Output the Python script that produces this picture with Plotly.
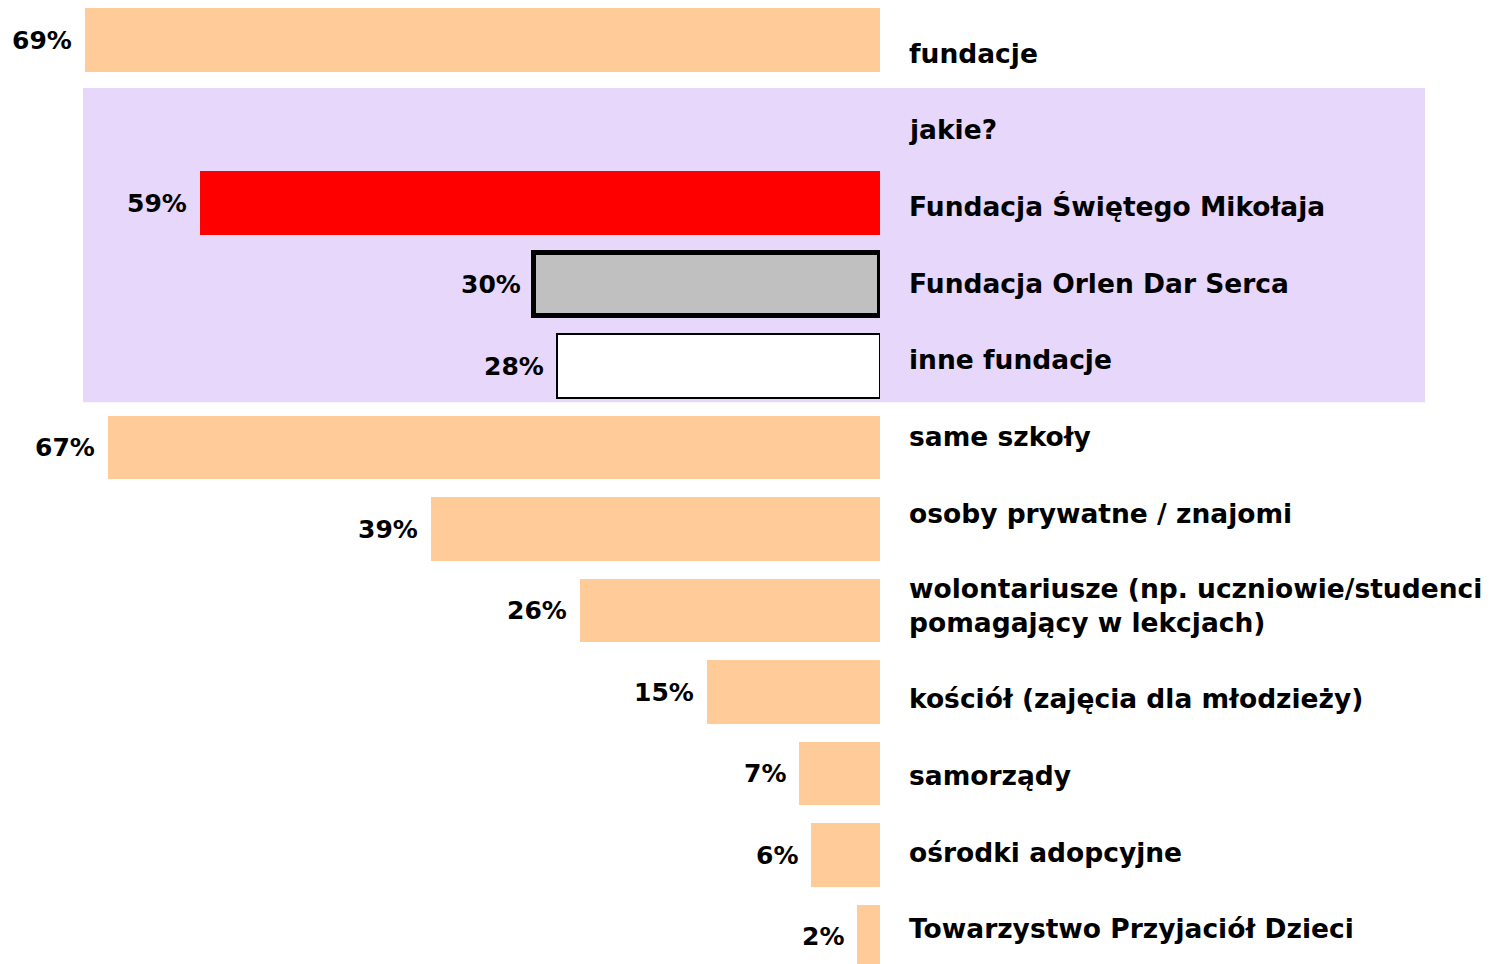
import plotly.graph_objects as go

# ---------------- data ----------------
categories = [
    "fundacje",
    "jakie?",
    "Fundacja Świętego Mikołaja",
    "Fundacja Orlen Dar Serca",
    "inne fundacje",
    "same szkoły",
    "osoby prywatne / znajomi",
    "wolontariusze (np. uczniowie/studenci\npomagający w lekcjach)",
    "kościół (zajęcia dla młodzieży)",
    "samorządy",
    "ośrodki adopcyjne",
    "Towarzystwo Przyjaciół Dzieci",
]
values = [69, None, 59, 30, 28, 67, 39, 26, 15, 7, 6, 2]

# ---------------- styles ----------------
PEACH = "#FFCB98"
fill_colors = [PEACH, PEACH, "#FF0000", "#C0C0C0", "#FFFFFF",
               PEACH, PEACH, PEACH, PEACH, PEACH, PEACH, PEACH]
line_colors = ["rgba(0,0,0,0)"] * 3 + ["#000000", "#000000"] + ["rgba(0,0,0,0)"] * 7
line_widths = [0, 0, 0, 5, 2, 0, 0, 0, 0, 0, 0, 0]

FONT = "DejaVu Sans"
LABEL_SIZE = 26.5
PCT_SIZE = 25

W, H = 1497, 964
PLOT_RIGHT = 880          # pixel where 0 % sits
PX_PER_PCT = 11.52
ROW_PX = 81.5             # bar slot pitch
FIRST_ROW_PX = 40
LABEL_PX = 76.7           # label paragraph pitch
FIRST_LABEL_PX = 53
LINE_PX = 32              # line height inside a multi-line label

fig = go.Figure()

fig.add_trace(go.Bar(
    x=values,
    y=categories,
    orientation="h",
    width=0.785,
    marker=dict(color=fill_colors,
                line=dict(color=line_colors, width=line_widths)),
    cliponaxis=False,
    hoverinfo="skip",
    showlegend=False,
))

# percentage labels to the left of each bar
for cat, v in zip(categories, values):
    if v is None:
        continue
    fig.add_annotation(
        x=v, y=cat, xref="x", yref="y",
        text=f"{v}%", showarrow=False,
        xanchor="right", yanchor="middle", xshift=-11,
        font=dict(family=FONT, size=PCT_SIZE, color="black", weight="bold"),
    )

# category labels on the right, laid out on their own (hidden) axis
line_step = LINE_PX / LABEL_PX
extra = 0.0
label_pos = []
for i, cat in enumerate(categories):
    n = cat.count("\n") + 1
    label_pos.append(i + extra + (n - 1) * line_step / 2)
    extra += (n - 1) * line_step

fig.add_trace(go.Scatter(x=[None], y=[None], yaxis="y2", showlegend=False,
                         hoverinfo="skip"))

for cat, pos in zip(categories, label_pos):
    fig.add_annotation(
        x=907 / W, y=pos, xref="paper", yref="y2",
        text=cat.replace("\n", "<br>"), showarrow=False, align="left",
        xanchor="left", yanchor="middle",
        font=dict(family=FONT, size=LABEL_SIZE, color="black", weight="bold"),
    )

# lavender panel behind the "jakie?" group
i_top = categories.index("jakie?")
i_bot = categories.index("inne fundacje")
fig.add_shape(
    type="rect", xref="paper", yref="y",
    x0=83 / W, x1=1425 / W,
    y0=i_top - 0.41, y1=i_bot + 0.445,
    fillcolor="#E6D7FB", line=dict(width=0), layer="below",
)

fig.update_layout(
    width=W, height=H,
    margin=dict(l=0, r=0, t=0, b=0),
    paper_bgcolor="white",
    plot_bgcolor="rgba(0,0,0,0)",
    bargap=0,
    xaxis=dict(domain=[0, PLOT_RIGHT / W],
               range=[PLOT_RIGHT / PX_PER_PCT, 0],
               visible=False, fixedrange=True),
    yaxis=dict(type="category", categoryorder="array", categoryarray=categories,
               range=[(H - FIRST_ROW_PX) / ROW_PX, -FIRST_ROW_PX / ROW_PX],
               visible=False, fixedrange=True),
    yaxis2=dict(overlaying="y", range=[(H - FIRST_LABEL_PX) / LABEL_PX,
                                        -FIRST_LABEL_PX / LABEL_PX],
                visible=False, fixedrange=True),
)

fig.write_html("out.html",
               config={"displayModeBar": False},
               post_script="document.body.style.margin='0';"
                           "document.body.style.overflow='hidden';")
